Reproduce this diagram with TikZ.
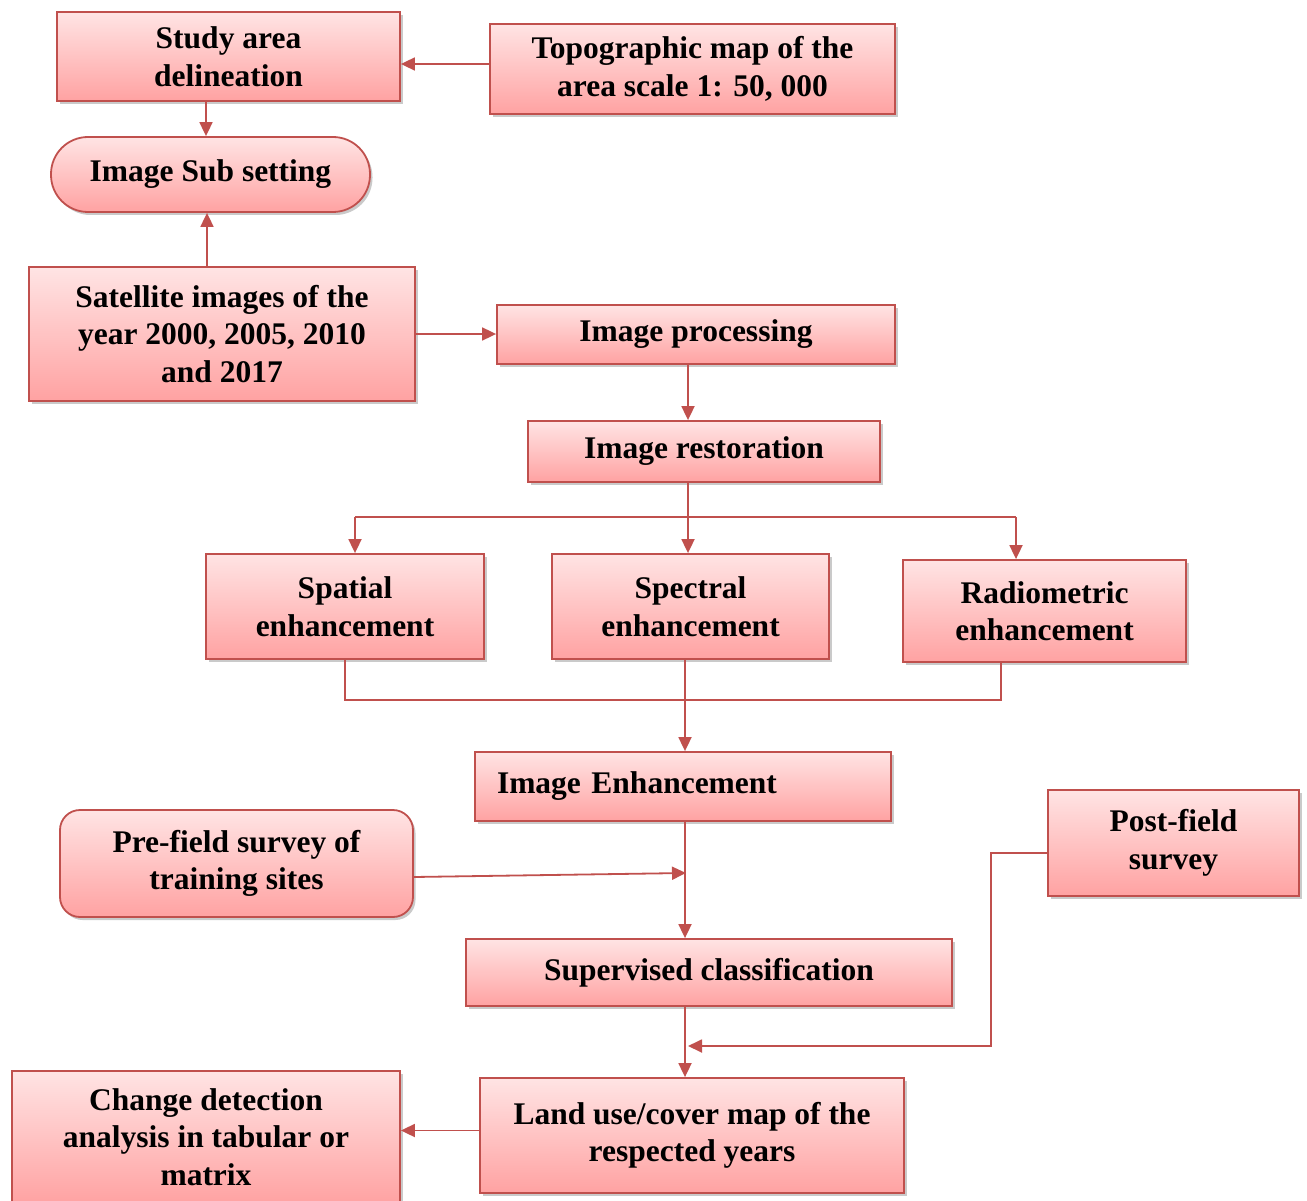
\documentclass[tikz,border=0pt]{standalone}
\usepackage{fontspec}
\setmainfont{Liberation Serif}
\usetikzlibrary{arrows.meta,shadows}
\definecolor{bd}{HTML}{C0504D}
\definecolor{topc}{HTML}{FFE4E4}
\definecolor{botc}{HTML}{FFA2A2}
\tikzset{
  box/.style={draw=bd, line width=1.8pt, top color=topc, bottom color=botc,
    drop shadow={shadow xshift=2.5pt, shadow yshift=-3pt, opacity=0.35, fill=black!60},
    align=center, inner sep=0pt, font=\fontsize{31.5}{37.5}\selectfont\bfseries},
  line/.style={draw=bd, line width=1.8pt},
  conn/.style={line, -{Triangle[length=14pt,width=13pt]}}
}
\begin{document}
\begin{tikzpicture}[x=1pt,y=-1pt]
\useasboundingbox (0,0) rectangle (1307,1201);
% nodes
\node[box, minimum width=343pt, minimum height=89pt] (study) at (228.5,56.5) {Study area\\delineation};
\node[box, minimum width=405pt, minimum height=90pt] (topo) at (692.5,69) {Topographic map of the\\area scale 1: 50, 000};
\node[box, rounded corners=37pt, minimum width=319pt, minimum height=75pt] (sub) at (210.5,174.5) {Image Sub setting};
\node[box, minimum width=386pt, minimum height=134pt] (sat) at (222,334) {Satellite images of the\\year 2000, 2005, 2010\\and 2017};
\node[box, minimum width=398pt, minimum height=59pt] (proc) at (696,334.5) {Image processing};
\node[box, minimum width=352pt, minimum height=61pt] (rest) at (704,451.5) {Image restoration};
\node[box, minimum width=278pt, minimum height=105pt] (spat) at (345,606.5) {Spatial\\enhancement};
\node[box, minimum width=277pt, minimum height=105pt] (spec) at (690.5,606.5) {Spectral\\enhancement};
\node[box, minimum width=283pt, minimum height=102pt] (rad) at (1044.5,611) {Radiometric\\enhancement};
\node[box, align=left, text width=372pt, inner xsep=22pt, minimum height=69pt] (enh) at (683,786.5) {Image Enhancement};
\node[box, rounded corners=20pt, minimum width=353pt, minimum height=107pt] (pre) at (236.5,863.5) {Pre-field survey of\\training sites};
\node[box, minimum width=251pt, minimum height=106pt] (post) at (1173.5,843) {Post-field\\survey};
\node[box, minimum width=486pt, minimum height=67pt] (sup) at (709,972.5) {Supervised classification};
\node[box, minimum width=424pt, minimum height=115pt] (land) at (692,1135.5) {Land use/cover map of the\\respected years};
\node[box, minimum width=388pt, minimum height=132pt] (chg) at (206,1137) {Change detection\\analysis in tabular or\\matrix};
% helper coordinates
\coordinate (jL) at (355,517);
\coordinate (jR) at (1016,517);
\coordinate (bus) at (0,700);
\coordinate (prej) at (686,873);
\coordinate (postturn) at (991,1046);
\coordinate (postend) at (688,1046);
% connectors
\draw[conn] ([yshift=5pt]topo.west) -- ([yshift=5pt]topo.west -| study.east);
\draw[conn] ([xshift=-22.5pt]study.south) -- ([xshift=-22.5pt]study.south |- sub.north);
\draw[conn] ([xshift=-15pt]sat.north) -- ([xshift=-15pt]sat.north |- sub.south);
\draw[conn] (sat.east) -- (sat.east -| proc.west);
\draw[conn] ([xshift=-8pt]proc.south) -- ([xshift=-8pt]proc.south |- rest.north);
\draw[conn] ([xshift=-16pt]rest.south) -- ([xshift=-16pt]rest.south |- spec.north);
\draw[line] (jL) -- (jR);
\draw[conn] (jL) -- (jL |- spat.north);
\draw[conn] (jR) -- (jR |- rad.north);
\draw[line] (spat.south) -- (spat.south |- bus) -- ([xshift=-43.5pt]rad.south |- bus) -- ([xshift=-43.5pt]rad.south);
\draw[conn] ([xshift=-5.5pt]spec.south) -- ([xshift=-5.5pt]spec.south |- enh.north);
\draw[conn] ([xshift=2pt]enh.south) -- ([xshift=2pt]enh.south |- sup.north);
\draw[conn] ([yshift=-13.5pt]pre.east) -- (prej);
\draw[conn] ([yshift=-10pt]post.west) -| (postturn) -- (postend);
\draw[conn] ([xshift=-24pt]sup.south) -- ([xshift=-24pt]sup.south |- land.north);
\draw[conn] ([yshift=5pt]land.west) -- ([yshift=5pt]land.west -| chg.east);
\end{tikzpicture}
\end{document}
